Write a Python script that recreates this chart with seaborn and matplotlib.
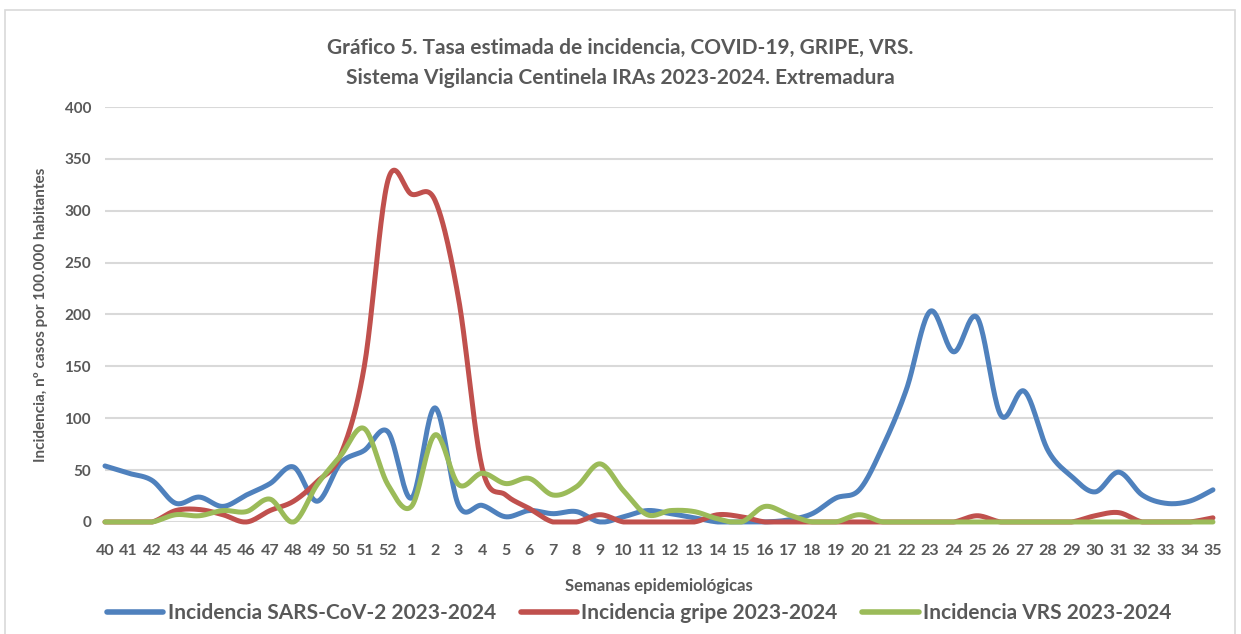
import numpy as np
import pandas as pd
import seaborn as sns
import matplotlib.pyplot as plt
from matplotlib.lines import Line2D
from matplotlib.patches import Rectangle

# semanas epidemiológicas 40-52 (2023) y 1-35 (2024)
weeks = [str(w) for w in list(range(40, 53)) + list(range(1, 36))]

sars_cov2 = [54, 47, 40, 18, 24, 15, 26, 37, 53, 20, 57, 69, 87, 23, 110, 16, 16, 5,
             11, 8, 10, 0, 5, 11, 8, 4, 0, 0, 0, 2, 8, 23, 31, 73, 128, 203, 164, 197,
             103, 126, 69, 44, 29, 48, 26, 18, 20, 31]
gripe = [0, 0, 0, 11, 12, 7, 0, 11, 20, 39, 65, 150, 329, 316, 310, 215, 52, 26,
         13, 0, 0, 7, 0, 0, 0, 0, 7, 5, 0, 0, 0, 0, 0, 0, 0, 0, 0, 6,
         0, 0, 0, 0, 6, 9, 0, 0, 0, 4]
vrs = [0, 0, 0, 7, 6, 11, 10, 22, 0, 36, 64, 90, 36, 15, 84, 36, 47, 37,
       42, 26, 34, 56, 30, 7, 11, 10, 3, 0, 15, 7, 0, 0, 7, 0, 0, 0, 0, 0,
       0, 0, 0, 0, 0, 0, 0, 0, 0, 0]

series = {
    "Incidencia SARS-CoV-2 2023-2024": (sars_cov2, "#4F81BD"),
    "Incidencia gripe 2023-2024": (gripe, "#C0504D"),
    "Incidencia VRS 2023-2024": (vrs, "#9BBB59"),
}


def smooth(values, n=24):
    """Excel-style smoothed line (Catmull-Rom as cubic Bezier)."""
    y = np.asarray(values, dtype=float)
    x = np.arange(len(y), dtype=float)
    pts = np.column_stack([x, y])
    out = []
    t = np.linspace(0, 1, n, endpoint=False)[:, None]
    for i in range(len(pts) - 1):
        p0 = pts[max(i - 1, 0)]
        p1, p2 = pts[i], pts[i + 1]
        p3 = pts[min(i + 2, len(pts) - 1)]
        c1 = p1 + (p2 - p0) / 6
        c2 = p2 - (p3 - p1) / 6
        seg = ((1 - t) ** 3) * p1 + 3 * ((1 - t) ** 2) * t * c1 + 3 * (1 - t) * t ** 2 * c2 + t ** 3 * p2
        out.append(seg)
    out.append(pts[-1:])
    out = np.vstack(out)
    return out[:, 0], np.clip(out[:, 1], 0, None)


sns.set_theme(style="white")
plt.rcParams["font.family"] = ["Lato", "DejaVu Sans"]
grey = "#595959"

fig = plt.figure(figsize=(12.41, 6.34), dpi=100)
fig.patches.append(Rectangle((0.004, -0.01), 0.991, 0.995, transform=fig.transFigure,
                             fill=False, edgecolor="#D9D9D9", lw=1.2))
ax = fig.add_axes([0.0846, 0.1767, 0.8928, 0.6545])

for name, (vals, color) in series.items():
    xs, ys = smooth(vals)
    sns.lineplot(x=xs, y=ys, ax=ax, color=color, lw=3.6, sort=False,
                 estimator=None, clip_on=False, solid_capstyle="round")

ax.set_xlim(0, len(weeks) - 1)
ax.set_ylim(0, 400)
ax.set_yticks(range(0, 401, 50))
ax.set_xticks(range(len(weeks)))
ax.set_xticklabels(weeks)
ax.yaxis.grid(True, color="#D9D9D9", lw=1.5)
ax.set_axisbelow(True)
for s in ax.spines.values():
    s.set_visible(False)
ax.tick_params(axis="y", length=0, labelsize=11, labelcolor=grey, pad=10)
ax.tick_params(axis="x", length=0, labelsize=11.5, labelcolor=grey, pad=16)
for lab in ax.get_xticklabels() + ax.get_yticklabels():
    lab.set_fontweight("bold")

ax.set_xlabel("Semanas epidemiológicas", fontsize=12, fontweight="bold", color=grey, labelpad=14)
ax.set_ylabel("Incidencia, nº casos por 100.000 habitantes", fontsize=11,
              fontweight="bold", color=grey, labelpad=12)

fig.text(0.5, 0.924, "Gráfico 5. Tasa estimada de incidencia, COVID-19, GRIPE, VRS.",
         ha="center", va="center", fontsize=15, fontweight="bold", color=grey)
fig.text(0.5, 0.877, "Sistema Vigilancia Centinela IRAs 2023-2024. Extremadura",
         ha="center", va="center", fontsize=15, fontweight="bold", color=grey)

handles = [Line2D([0], [0], color=c, lw=4, solid_capstyle="round") for _, c in series.values()]
leg = fig.legend(handles, list(series.keys()), loc="center", bbox_to_anchor=(0.515, 0.033),
                 ncol=3, frameon=False, handlelength=2.7, handletextpad=0.2, columnspacing=1.2,
                 fontsize=15)
for txt in leg.get_texts():
    txt.set_fontweight("bold")
    txt.set_color(grey)

fig.savefig("out.png", dpi=100)
